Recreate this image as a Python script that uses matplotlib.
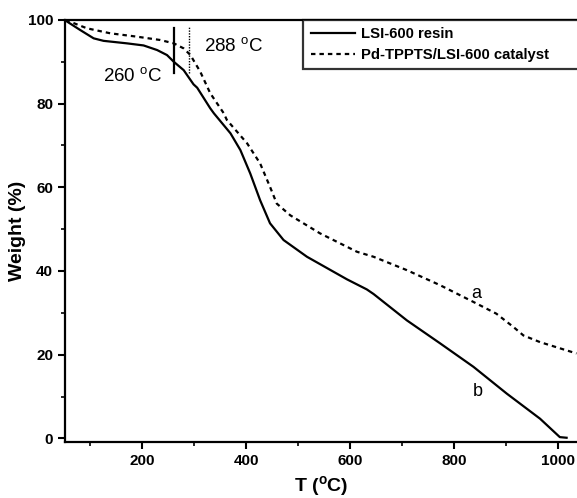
import matplotlib
matplotlib.use('Agg')
import matplotlib.pyplot as plt
from matplotlib.ticker import MultipleLocator

plt.rcParams['font.family'] = ['Liberation Sans', 'DejaVu Sans']

# curve b: LSI-600 resin (solid)
resin_T = [53, 56, 81, 107, 126, 171, 203, 229, 248, 261, 280, 299, 306, 331, 338, 370, 389, 408,
           427, 446, 472, 517, 594, 632, 645, 709, 773, 837, 901, 965, 1003, 1016]
resin_W = [100, 99.6, 97.6, 95.6, 95.0, 94.4, 93.9, 92.8, 91.6, 90.0, 88.0, 84.6, 83.8, 78.9, 77.7, 72.9, 68.9, 63.3,
           56.9, 51.4, 47.4, 43.4, 38.0, 35.6, 34.5, 28.2, 22.7, 17.1, 10.7, 4.7, 0.3, 0.15]

# curve a: Pd-TPPTS/LSI-600 catalyst (dashed)
cat_T = [53, 94, 139, 190, 235, 261, 280, 293, 312, 331, 357, 363, 402, 427, 446, 459, 485, 542, 613,
         645, 709, 773, 837, 881, 914, 933, 965, 1035]
cat_W = [100, 98.0, 96.8, 96.0, 95.2, 94.4, 93.2, 91.6, 87.6, 82.5, 77.7, 76.1, 70.5, 65.7, 60.1, 56.1, 53.3, 49.0, 44.6,
         43.4, 40.2, 36.6, 32.6, 29.8, 26.6, 24.6, 23.0, 20.3]

fig = plt.figure(figsize=(5.77, 4.98), dpi=100)
ax = fig.add_axes([0.1127, 0.113, 0.8873, 0.847])

ax.plot(resin_T, resin_W, color='black', linewidth=1.6, linestyle='-', label='LSI-600 resin')
ax.plot(cat_T, cat_W, color='black', linewidth=1.6, linestyle=(0, (2.0, 1.8)), label='Pd-TPPTS/LSI-600 catalyst')

# onset markers
ax.plot([261, 261], [87.2, 98.0], color='black', linewidth=1.6)
ax.plot([289.5, 289.5], [87.2, 98.2], color='black', linewidth=1.0, linestyle=(0, (1, 1)))
ax.text(182, 86.4, '260 $^\\mathregular{o}$C', fontsize=13.5, ha='center', va='center')
ax.text(376, 93.6, '288 $^\\mathregular{o}$C', fontsize=13.5, ha='center', va='center')
ax.text(843, 34.6, 'a', fontsize=13, ha='center', va='center')
ax.text(846, 11.1, 'b', fontsize=13, ha='center', va='center')

ax.set_xlim(52, 1036)
ax.set_ylim(-0.8, 100)
ax.xaxis.set_major_locator(MultipleLocator(200))
ax.xaxis.set_minor_locator(MultipleLocator(100))
ax.yaxis.set_major_locator(MultipleLocator(20))
ax.yaxis.set_minor_locator(MultipleLocator(10))
ax.tick_params(which='major', direction='out', length=5, width=1.5, labelsize=11)
ax.tick_params(which='minor', direction='out', length=3, width=1.2)
for lab in ax.get_xticklabels() + ax.get_yticklabels():
    lab.set_fontweight('bold')
for s in ['left', 'bottom', 'top']:
    ax.spines[s].set_linewidth(1.6)
ax.spines['right'].set_visible(False)

ax.set_xlabel('T ($^\\mathregular{o}$C)', fontsize=14, fontweight='bold', labelpad=5)
ax.set_ylabel('Weight (%)', fontsize=14, fontweight='bold', labelpad=1)

leg = ax.legend(loc='upper left', bbox_to_anchor=(0.465, 0.5, 0.6, 0.5), mode='expand',
                prop={'weight': 'bold', 'size': 10.7},
                frameon=True, fancybox=False, edgecolor='black', handlelength=3.0, handletextpad=0.4,
                borderpad=0.5, labelspacing=0.45, borderaxespad=0)
leg.get_frame().set_linewidth(1.6)

plt.savefig('out.png', dpi=100)
